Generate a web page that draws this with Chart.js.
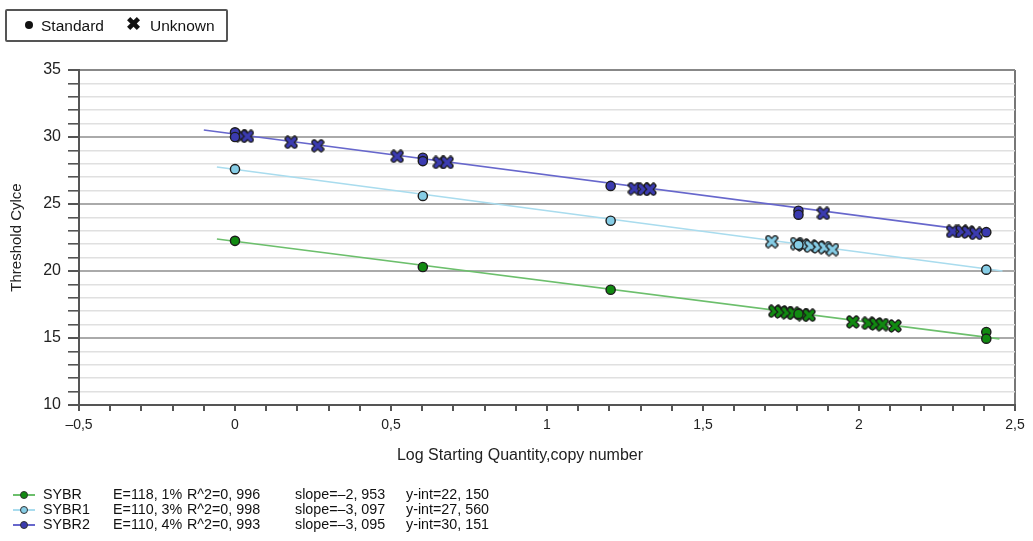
<!DOCTYPE html>
<html>
<head>
<meta charset="utf-8">
<script src="https://cdn.jsdelivr.net/npm/chart.js@4.4.1/dist/chart.umd.min.js"></script>
<style>
  body { margin: 0; background: #fff; font-family: "Liberation Sans", Arial, sans-serif; }
  #wrap { position: relative; width: 1033px; height: 541px; }
  #grafico { position: absolute; left: 0; top: 0; }
  #legTopo {
    position: absolute; left: 5px; top: 9px; width: 219px; height: 29px;
    border: 2px solid #555; border-radius: 2px; font-size: 15.5px; color: #111;
  }
  #legTopo span { position: absolute; top: 6px; }
  #tituloX { position: absolute; left: 520px; top: 446px; transform: translateX(-50%); font-size: 16px; color: #222; white-space: nowrap; }
  #legBaixo { position: absolute; left: 0; top: 487px; font-size: 14.3px; color: #111; }
  .linha { position: absolute; height: 15px; width: 600px; }
  .linha span { position: absolute; top: 0; white-space: pre; line-height: 15px; }
  .ico { position: absolute; left: 13px; top: 7px; width: 22px; height: 2px; }
  .ico i { position: absolute; left: 7px; top: -3px; width: 6px; height: 6px; border-radius: 50%; border: 1px solid #333; }
</style>
</head>
<body>
<div id="wrap">
  <canvas id="grafico" width="1033" height="541"></canvas>
  <div id="legTopo"></div>
  <div id="tituloX">Log Starting Quantity,copy number</div>
  <div id="legBaixo"></div>
</div>
<script>
// ===== DADOS =====
const series = ["SYBR", "SYBR1", "SYBR2"];
const eficiencia = ["E=118, 1%", "E=110, 3%", "E=110, 4%"];
const r2 = ["R^2=0, 996", "R^2=0, 998", "R^2=0, 993"];
const inclinacao = ["slope=\u20132, 953", "slope=\u20133, 097", "slope=\u20133, 095"];
const intercepto = ["y-int=22, 150", "y-int=27, 560", "y-int=30, 151"];

// padrões (log da quantidade, Ct)
const padraoX0 = [0, 0.602, 1.204, 1.806, 2.408, 2.408];
const padraoY0 = [22.25, 20.3, 18.6, 16.8, 15.45, 14.95];
const padraoX1 = [0, 0.602, 1.204, 1.806, 2.408];
const padraoY1 = [27.6, 25.6, 23.75, 21.95, 20.1];
const padraoX2 = [0, 0, 0.602, 0.602, 1.204, 1.806, 1.806, 2.408];
const padraoY2 = [30.35, 30.0, 28.45, 28.2, 26.35, 24.5, 24.2, 22.9];

// desconhecidos
const descX0 = [1.73, 1.75, 1.77, 1.79, 1.82, 1.84, 1.98, 2.03, 2.055, 2.075, 2.115];
const descY0 = [17.0, 16.95, 16.9, 16.85, 16.75, 16.7, 16.2, 16.1, 16.05, 16.0, 15.9];
const descX1 = [1.72, 1.8, 1.82, 1.845, 1.87, 1.89, 1.915];
const descY1 = [22.2, 22.05, 21.95, 21.85, 21.8, 21.75, 21.6];
const descX2 = [0.02, 0.04, 0.18, 0.265, 0.52, 0.655, 0.68, 1.28, 1.31, 1.33, 1.886, 2.3, 2.33, 2.35, 2.375];
const descY2 = [30.1, 30.05, 29.6, 29.35, 28.55, 28.1, 28.1, 26.15, 26.1, 26.1, 24.3, 22.95, 22.95, 22.9, 22.8];

// retas de regressão (extremos)
const retaX0 = [-0.058, 2.45];
const retaY0 = [22.39, 14.93];
const retaX1 = [-0.058, 2.46];
const retaY1 = [27.76, 20.0];
const retaX2 = [-0.1, 2.42];
const retaY2 = [30.52, 22.84];

// ===== CORES =====
const corLinha = ["#6cbf6c", "#a9dcee", "#6767cc"];
const corPonto = ["#118a11", "#86cde6", "#3b3bb0"];

const pares = (xs, ys) => xs.map((x, i) => ({ x: x, y: ys[i] }));

function fazerX(cor) {
  const c = document.createElement("canvas");
  c.width = 14; c.height = 14;
  const g = c.getContext("2d");
  g.lineCap = "round";
  g.beginPath();
  g.moveTo(3.5, 3.5); g.lineTo(10.5, 10.5);
  g.moveTo(10.5, 3.5); g.lineTo(3.5, 10.5);
  g.strokeStyle = "#1a1a1a"; g.lineWidth = 6; g.stroke();
  g.strokeStyle = cor; g.lineWidth = 3.2; g.stroke();
  return c;
}

const padroes = [pares(padraoX0, padraoY0), pares(padraoX1, padraoY1), pares(padraoX2, padraoY2)];
const desconhecidos = [pares(descX0, descY0), pares(descX1, descY1), pares(descX2, descY2)];
const retas = [pares(retaX0, retaY0), pares(retaX1, retaY1), pares(retaX2, retaY2)];

const datasets = [];
series.forEach((nome, i) => {
  datasets.push({
    label: nome + " reta", data: retas[i], showLine: true, pointRadius: 0,
    borderColor: corLinha[i], borderWidth: 1.7, order: 5
  });
  datasets.push({
    label: nome + " unknown", data: desconhecidos[i], pointStyle: fazerX(corPonto[i]), order: 2
  });
  datasets.push({
    label: nome + " standard", data: padroes[i], pointStyle: "circle", pointRadius: 4.6,
    backgroundColor: corPonto[i], borderColor: "#1c1c1c", borderWidth: 1.4, order: 1
  });
});

const familia = "'Liberation Sans', Arial, sans-serif";
const rotulo = v => String(v).replace("-", "\u2013").replace(".", ",");

new Chart(document.getElementById("grafico").getContext("2d"), {
  type: "scatter",
  data: { datasets: datasets },
  options: {
    responsive: false,
    animation: false,
    layout: { padding: { left: 4, top: 70, right: 18, bottom: 74 } },
    plugins: { legend: { display: false }, tooltip: { enabled: false } },
    scales: {
      x: {
        type: "linear", min: -0.5, max: 2.5,
        afterFit: s => { s.height = 62; },
        border: { color: "#555", width: 2 },
        grid: {
          drawOnChartArea: true, tickLength: 6, tickColor: "#555", lineWidth: 2,
          color: c => Math.abs(c.tick.value - 2.5) < 1e-6 ? "#777" : "rgba(0,0,0,0)"
        },
        ticks: {
          stepSize: 0.1, autoSkip: false, maxRotation: 0, padding: 6, color: "#222",
          font: { family: familia, size: 14 },
          callback: v => {
            const r = Math.round(v * 10) / 10;
            return Math.abs(r * 2 - Math.round(r * 2)) < 1e-6 ? rotulo(r) : "";
          }
        }
      },
      y: {
        min: 10, max: 35,
        afterFit: s => { s.width = 75; },
        border: { color: "#555", width: 2 },
        grid: {
          tickLength: 11, tickColor: "#555",
          color: c => c.tick.value === 35 ? "#888" : (c.tick.value % 5 === 0 ? "#aaa" : "#e0e0e0"),
          lineWidth: c => c.tick.value % 5 === 0 ? 2 : 1.6
        },
        ticks: {
          stepSize: 1, autoSkip: false, padding: 7, color: "#222", font: { family: familia, size: 16 },
          callback: v => v % 5 === 0 ? String(v) : ""
        },
        title: { display: true, text: "Threshold Cylce", color: "#222", font: { family: familia, size: 15 } }
      }
    }
  }
});

// ===== LEGENDA SUPERIOR =====
const legTopo = document.getElementById("legTopo");
legTopo.innerHTML =
  '<span style="left:18px;top:10px;width:8px;height:8px;border-radius:50%;background:#111"></span>' +
  '<span style="left:34px">Standard</span>' +
  '<span style="left:119px;top:2px;font-size:18px;font-weight:bold">\u2716</span>' +
  '<span style="left:143px">Unknown</span>';

// ===== LEGENDA INFERIOR =====
const legBaixo = document.getElementById("legBaixo");
series.forEach((nome, i) => {
  const linha = document.createElement("div");
  linha.className = "linha";
  linha.style.top = (i * 15) + "px";
  linha.innerHTML =
    '<div class="ico" style="background:' + corLinha[i] + '"><i style="background:' + corPonto[i] + '"></i></div>' +
    '<span style="left:43px">' + nome + '</span>' +
    '<span style="left:113px">' + eficiencia[i] + '</span>' +
    '<span style="left:187px">' + r2[i] + '</span>' +
    '<span style="left:295px">' + inclinacao[i] + '</span>' +
    '<span style="left:406px">' + intercepto[i] + '</span>';
  legBaixo.appendChild(linha);
});
</script>
</body>
</html>
